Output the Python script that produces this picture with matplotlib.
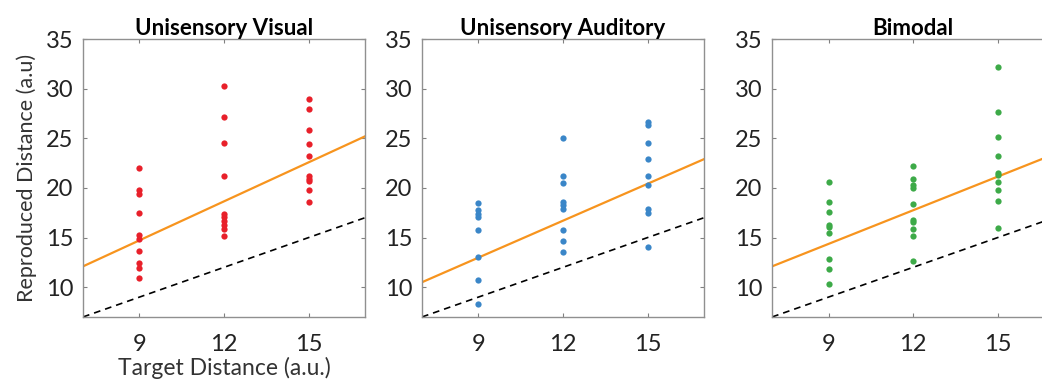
import matplotlib
matplotlib.use("Agg")
import matplotlib.pyplot as plt
import numpy as np

plt.rcParams['font.family'] = ['Lato', 'DejaVu Sans']

titles = ["Unisensory Visual", "Unisensory Auditory", "Bimodal"]
colors = ["#E8202A", "#3A86C8", "#3DAA48"]
targets = [9, 12, 15]

# reproduced distances per target (9, 12, 15)
visual = [
    [22.0, 19.8, 19.4, 17.5, 15.3, 14.9, 13.6, 12.4, 11.9, 10.9],
    [30.3, 27.1, 24.5, 21.2, 17.4, 17.1, 16.7, 16.3, 15.9, 15.2],
    [29.0, 28.0, 25.8, 24.4, 23.2, 21.2, 20.9, 20.7, 19.8, 18.6],
]
auditory = [
    [18.5, 17.8, 17.4, 17.1, 15.8, 13.0, 10.7, 8.3],
    [25.0, 21.2, 20.5, 18.6, 18.3, 17.9, 15.8, 14.7, 13.5],
    [26.6, 26.3, 24.5, 22.9, 21.2, 20.3, 17.9, 17.5, 14.0],
]
bimodal = [
    [20.6, 18.6, 17.6, 16.3, 16.1, 15.5, 12.8, 11.8, 10.3],
    [22.2, 20.9, 20.3, 20.0, 18.4, 16.8, 16.6, 15.9, 15.2, 12.6],
    [32.2, 27.7, 25.1, 23.2, 21.5, 21.3, 20.6, 19.8, 18.7, 16.0],
]
datasets = [visual, auditory, bimodal]

# linear fits: reproduced = intercept + slope * (target - 7)
fit_intercept = [12.1, 10.5, 12.1]
fit_slope = [1.31, 1.24, 1.13]

fig = plt.figure(figsize=(10.42, 3.87), dpi=100)
lefts = [0.0797, 0.405, 0.741]
xs = np.array([7, 17])

for i in range(3):
    ax = fig.add_axes([lefts[i], 0.181, 0.2706, 0.718])
    for t, ys in zip(targets, datasets[i]):
        ax.plot([t] * len(ys), ys, 'o', color=colors[i], ms=4.5, mew=0, zorder=3)
    ax.plot(xs, xs, '--', color='black', lw=1.2, dashes=(4, 3))
    ax.plot(xs, fit_intercept[i] + fit_slope[i] * (xs - 7), color='#F7941E', lw=1.6)
    ax.set_xlim(7, 17)
    ax.set_ylim(7, 35)
    ax.set_xticks(targets)
    ax.set_yticks([10, 15, 20, 25, 30, 35])
    ax.tick_params(direction='in', length=3, width=0.8, color='#808080',
                   top=True, right=True, labelsize=17, labelcolor='#222222')
    ax.tick_params(axis='x', pad=12)
    ax.tick_params(axis='y', pad=7)
    for s in ax.spines.values():
        s.set_color('#909090')
        s.set_linewidth(1.0)
    ax.set_title(titles[i], fontsize=16, fontweight='bold', pad=3)
    if i == 0:
        ax.set_ylabel("Reproduced Distance (a.u)", fontsize=15.5, color='#333333', labelpad=6)
        ax.set_xlabel("Target Distance (a.u.)", fontsize=16.5, color='#333333', labelpad=2)

fig.savefig("out.png", dpi=100)
